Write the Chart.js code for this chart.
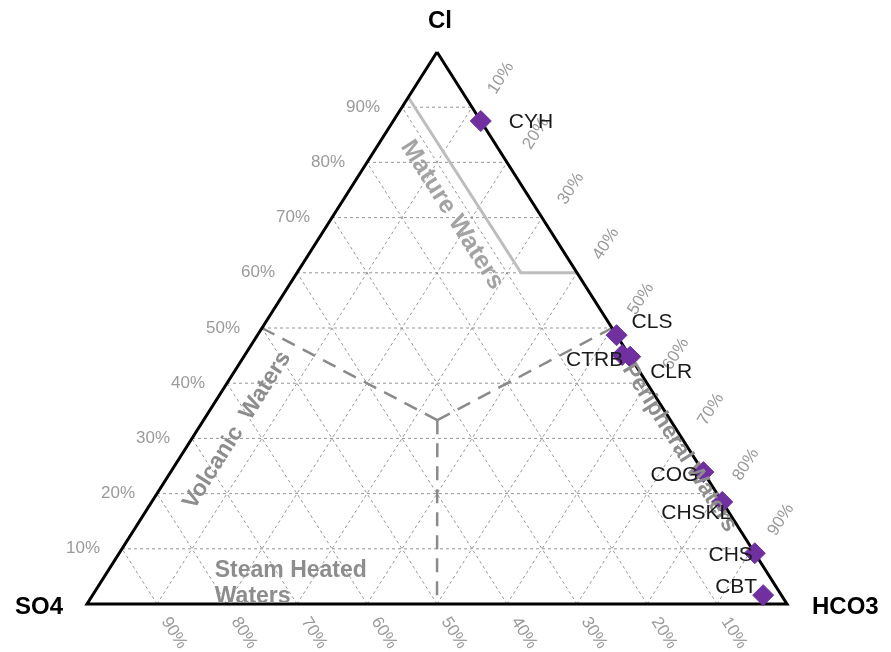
<!DOCTYPE html>
<html lang="en">
<head>
<meta charset="UTF-8" />
<title>Cl - SO4 - HCO3 ternary diagram</title>
<script src="https://cdn.jsdelivr.net/npm/chart.js"></script>
<style>
  body { margin: 0; background: #fff; }
  canvas { display: block; }
</style>
</head>
<body>
<canvas id="ternary" width="891" height="652"></canvas>
<script>
// samples and their relative Cl / SO4 / HCO3 content (%)
const samples = ["CYH", "CLS", "CTRB", "CLR", "COG", "CHSKL", "CHS", "CBT"];
const cl   = [87.5, 48.7, 45.1, 44.8, 23.9, 18.5, 9.2, 1.6];
const so4  = [0.0, 0.0, 1.0, 0.0, 0.0, 0.0, 0.0, 2.6];
const hco3 = [12.5, 51.3, 53.9, 55.2, 76.1, 81.5, 90.8, 95.8];

// percentage ticks on each side
const tickValues = [10, 20, 30, 40, 50, 60, 70, 80, 90];

// field boundaries, as [Cl, SO4, HCO3] corners
const matureLine = [[91.8, 8.2, 0], [60, 8, 32], [60, 0, 40]];
const centre = [33.3, 33.3, 33.4];
const volcanicLine = [[50, 50, 0], centre];
const peripheralLine = [centre, [50, 0, 50]];
const steamLine = [centre, [0, 50, 50]];

// ternary -> cartesian (SO4 corner at 0,0, HCO3 at 1,0, Cl at 0.5,1)
function toXY(c, s, h) {
  const t = c + s + h;
  return { x: (h + c / 2) / t, y: c / t };
}
const path = pts => pts.map(p => toXY(p[0], p[1], p[2]));

const FONT = "'Liberation Sans', Arial, sans-serif";

const gridSets = [];
tickValues.forEach(t => {
  const lines = [
    [[t, 100 - t, 0], [t, 0, 100 - t]],     // constant Cl
    [[0, t, 100 - t], [100 - t, t, 0]],     // constant SO4
    [[0, 100 - t, t], [100 - t, 0, t]]      // constant HCO3
  ];
  lines.forEach(l => gridSets.push({
    data: path(l), showLine: true, pointRadius: 0,
    borderColor: '#969696', borderWidth: 1, borderDash: [3, 3], order: 4
  }));
});

const boundaryStyle = {
  showLine: true, pointRadius: 0, borderColor: '#8a8a8a',
  borderWidth: 2.5, borderDash: [14, 9], order: 3
};

const datasets = [
  {
    data: samples.map((n, i) => toXY(cl[i], so4[i], hco3[i])),
    pointStyle: 'rectRot', pointRadius: 10.5, pointBackgroundColor: '#7030a0',
    pointBorderColor: '#7030a0', pointBorderWidth: 1, order: 0
  },
  {
    data: path([[100, 0, 0], [0, 100, 0], [0, 0, 100], [100, 0, 0]]),
    showLine: true, pointRadius: 0, borderColor: '#000', borderWidth: 3,
    borderJoinStyle: 'miter', order: 1
  },
  {
    data: path(matureLine), showLine: true, pointRadius: 0,
    borderColor: '#bdbdbd', borderWidth: 3, order: 2
  },
  Object.assign({ data: path(volcanicLine) }, boundaryStyle),
  Object.assign({ data: path(peripheralLine) }, boundaryStyle),
  Object.assign({ data: path(steamLine) }, boundaryStyle),
  ...gridSets
];

// label placement next to each sample marker: [dx, dy, align]
const nameOffsets = {
  CYH: [28, 1, 'left'], CLS: [15, -13, 'left'], CTRB: [1, 5, 'right'],
  CLR: [20, 15, 'left'], COG: [-5, 3, 'right'], CHSKL: [9, 11, 'right'],
  CHS: [-2, 2, 'right'], CBT: [-6, -8, 'right']
};

const textPlugin = {
  id: 'ternaryText',
  afterDatasetsDraw(chart) {
    const { ctx } = chart;
    const sx = chart.scales.x, sy = chart.scales.y;
    const px = (c, s, h) => {
      const p = toXY(c, s, h);
      return [sx.getPixelForValue(p.x), sy.getPixelForValue(p.y)];
    };
    const [clX, clY] = px(100, 0, 0);
    const [hX, hY] = px(0, 0, 100);
    const [sX, sY] = px(0, 100, 0);
    const a = Math.atan2(hY - clY, hX - clX);   // slope of the right edge
    const ca = Math.cos(a), sa = Math.sin(a);

    ctx.save();
    ctx.textBaseline = 'middle';

    // tick labels
    ctx.font = '17px ' + FONT;
    ctx.fillStyle = '#9a9a9a';
    tickValues.forEach(t => {
      const txt = t + '%';
      let [ex, ey] = px(t, 100 - t, 0);
      ctx.textAlign = 'right';
      ctx.fillText(txt, ex - 22, ey);

      ctx.textAlign = 'center';
      [ex, ey] = px(100 - t, 0, t);
      ctx.save();
      ctx.translate(ex + 40 * sa - 9 * ca, ey - 40 * ca - 9 * sa);
      ctx.rotate(-a);
      ctx.fillText(txt, 0, 0);
      ctx.restore();

      [ex, ey] = px(0, t, 100 - t);
      ctx.save();
      ctx.translate(ex + 17, ey + 29);
      ctx.rotate(a);
      ctx.fillText(txt, 0, 0);
      ctx.restore();
    });

    // corner names
    ctx.font = 'bold 24px ' + FONT;
    ctx.fillStyle = '#000';
    ctx.textAlign = 'center';
    ctx.fillText('Cl', clX + 3, clY - 31);
    ctx.textAlign = 'right';
    ctx.fillText('SO4', sX - 24, sY + 3);
    ctx.textAlign = 'left';
    ctx.fillText('HCO3', hX + 25, hY + 3);

    // water type fields
    const rotated = (txt, c, s, h, ang) => {
      const [x, y] = px(c, s, h);
      ctx.save();
      ctx.translate(x, y);
      ctx.rotate(ang);
      ctx.textAlign = 'center';
      ctx.fillText(txt, 0, 0);
      ctx.restore();
    };
    ctx.font = 'bold 25px ' + FONT;
    ctx.fillStyle = '#a3a3a3';
    rotated('Mature Waters', 70.5, 12.6, 16.9, a);
    ctx.font = 'bold 23px ' + FONT;
    ctx.fillStyle = '#8d8d8d';
    rotated('Volcanic  Waters', 31.5, 62.8, 5.7, -a);
    rotated('Peripheral Waters', 28.3, 1.2, 70.5, a);
    const [stX, stY] = px(4.9, 79.3, 15.8);
    ctx.textAlign = 'left';
    ctx.textBaseline = 'alphabetic';
    ctx.fillText('Steam Heated', stX, stY);
    ctx.fillText('Waters', stX, stY + 26);

    // sample names
    ctx.font = '21px ' + FONT;
    ctx.fillStyle = '#1a1a1a';
    ctx.textBaseline = 'middle';
    const pts = chart.getDatasetMeta(0).data;
    samples.forEach((n, i) => {
      const [dx, dy, al] = nameOffsets[n];
      ctx.textAlign = al;
      ctx.fillText(n, pts[i].x + dx, pts[i].y + dy);
    });
    ctx.restore();
  }
};

new Chart(document.getElementById('ternary'), {
  type: 'scatter',
  data: { datasets },
  options: {
    responsive: false,
    animation: false,
    layout: { padding: { left: 87, right: 104, top: 52, bottom: 48 } },
    scales: {
      x: { type: 'linear', min: 0, max: 1, display: false },
      y: { type: 'linear', min: 0, max: 1, display: false }
    },
    elements: { line: { tension: 0 } },
    datasets: { scatter: { clip: false } },
    plugins: { legend: { display: false }, tooltip: { enabled: false } }
  },
  plugins: [textPlugin]
});
</script>
</body>
</html>
